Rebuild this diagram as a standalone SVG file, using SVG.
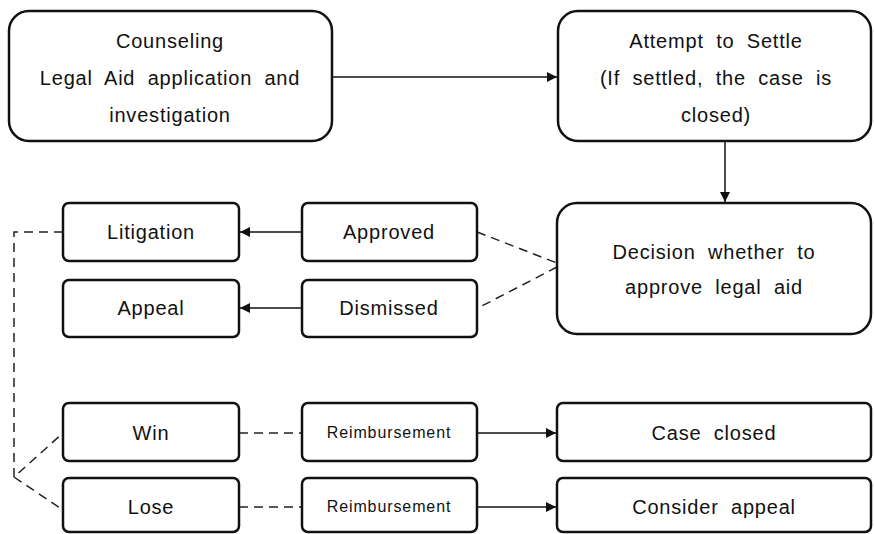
<svg xmlns="http://www.w3.org/2000/svg" width="874" height="534" viewBox="0 0 874 534">
<style>
.big{fill:#fff;stroke:#111;stroke-width:2.5}
.sm{fill:#fff;stroke:#111;stroke-width:2.5}
.t{font-family:"Liberation Sans",Arial,sans-serif;font-size:20px;letter-spacing:0.8px;word-spacing:6px;fill:#111;text-anchor:middle}
.ts{font-family:"Liberation Sans",Arial,sans-serif;font-size:16px;letter-spacing:0.9px;fill:#111;text-anchor:middle}
.ln{fill:none;stroke:#111;stroke-width:1.5}
.ds{fill:none;stroke:#222;stroke-width:1.5;stroke-dasharray:9 6}
</style>
<defs>
<marker id="ah" viewBox="0 0 10 10" refX="10" refY="5" markerWidth="10" markerHeight="10" markerUnits="userSpaceOnUse" orient="auto">
<path d="M0,0 L10,5 L0,10 Z" fill="#111"/>
</marker>
</defs>
<g id="connectors">
<line class="ln" x1="332" y1="77" x2="557" y2="77" marker-end="url(#ah)"/>
<line class="ln" x1="725" y1="141" x2="725" y2="202" marker-end="url(#ah)"/>
<line class="ln" x1="302" y1="232" x2="240" y2="232" marker-end="url(#ah)"/>
<line class="ln" x1="302" y1="308" x2="240" y2="308" marker-end="url(#ah)"/>
<line class="ln" x1="477" y1="433" x2="556" y2="433" marker-end="url(#ah)"/>
<line class="ln" x1="477" y1="507" x2="556" y2="507" marker-end="url(#ah)"/>
<path class="ds" d="M477,232 L557,263"/>
<path class="ds" d="M557,267 L478,308"/>
<path class="ds" d="M63,232 H14 V477 L63,433"/>
<path class="ds" d="M14,477 L63,510"/>
<path class="ds" d="M239,433 H302"/>
<path class="ds" d="M239,507 H302"/>
</g>
<g id="counseling">
<rect class="big" x="9" y="11" width="323" height="130" rx="20"/>
<text class="t" x="170" y="48">Counseling</text>
<text class="t" x="170" y="85">Legal Aid application and</text>
<text class="t" x="170" y="122">investigation</text>
</g>
<g id="settle">
<rect class="big" x="558" y="11" width="313" height="130" rx="20"/>
<text class="t" x="716" y="48">Attempt to Settle</text>
<text class="t" x="716" y="85">(If settled, the case is</text>
<text class="t" x="716" y="122">closed)</text>
</g>
<g id="decision">
<rect class="big" x="557" y="203" width="314" height="131" rx="20"/>
<text class="t" x="714" y="259">Decision whether to</text>
<text class="t" x="714" y="294">approve legal aid</text>
</g>
<g id="litigation">
<rect class="sm" x="63" y="203" width="176" height="58" rx="6"/>
<text class="t" x="151" y="239">Litigation</text>
</g>
<g id="approved">
<rect class="sm" x="302" y="203" width="175" height="58" rx="6"/>
<text class="t" x="389" y="239">Approved</text>
</g>
<g id="appeal">
<rect class="sm" x="63" y="280" width="176" height="57" rx="6"/>
<text class="t" x="151" y="315">Appeal</text>
</g>
<g id="dismissed">
<rect class="sm" x="302" y="280" width="175" height="57" rx="6"/>
<text class="t" x="389" y="315">Dismissed</text>
</g>
<g id="win">
<rect class="sm" x="63" y="403" width="176" height="58" rx="6"/>
<text class="t" x="151" y="440">Win</text>
</g>
<g id="lose">
<rect class="sm" x="63" y="478" width="176" height="54" rx="6"/>
<text class="t" x="151" y="514">Lose</text>
</g>
<g id="reimb1">
<rect class="sm" x="302" y="403" width="175" height="58" rx="6"/>
<text class="ts" x="389" y="438">Reimbursement</text>
</g>
<g id="reimb2">
<rect class="sm" x="302" y="478" width="175" height="54" rx="6"/>
<text class="ts" x="389" y="512">Reimbursement</text>
</g>
<g id="caseclosed">
<rect class="sm" x="557" y="403" width="314" height="58" rx="6"/>
<text class="t" x="714" y="440">Case closed</text>
</g>
<g id="considerappeal">
<rect class="sm" x="557" y="478" width="314" height="54" rx="6"/>
<text class="t" x="714" y="514">Consider appeal</text>
</g>
</svg>
